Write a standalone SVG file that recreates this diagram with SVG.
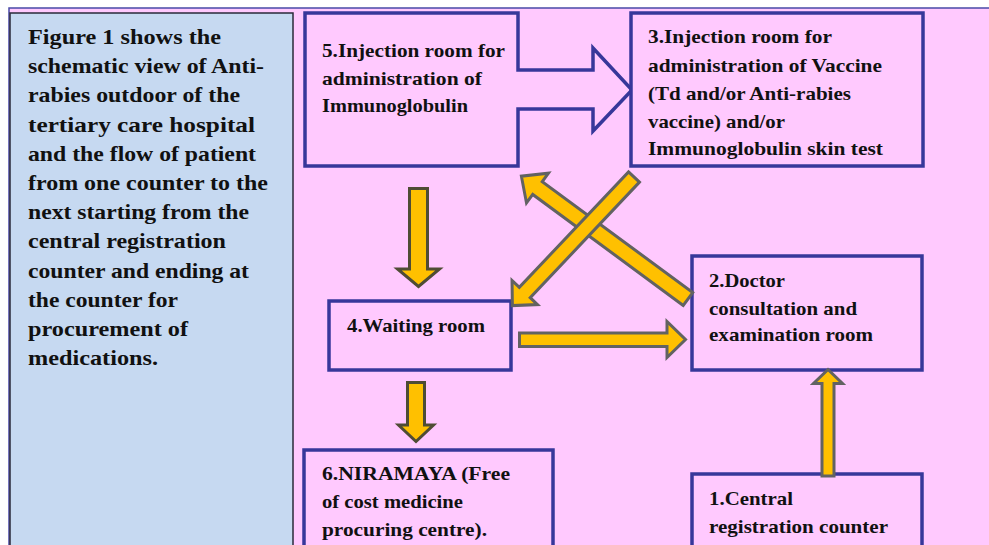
<svg xmlns="http://www.w3.org/2000/svg" width="989" height="545" viewBox="0 0 989 545">
<style>
.bg{fill:#ffc9fe;stroke:#4a4aa8;stroke-width:1.5}
.panel{fill:#c6d9f1;stroke:#2a2a3a;stroke-width:1.5}
.box{fill:#ffc9fe;stroke:#37379a;stroke-width:3.5}
.arr{fill:#ffc000;stroke:#626262;stroke-width:3;stroke-linejoin:miter}
.arrd{fill:#ffc000;stroke:#4f4c34;stroke-width:3;stroke-linejoin:miter}
.pt{font-family:"Liberation Serif","Times New Roman",serif;font-weight:bold;font-size:21px;fill:#111}
.bt{font-family:"Liberation Serif","Times New Roman",serif;font-weight:bold;font-size:19px;fill:#111}
</style>
<rect width="989" height="545" fill="#ffffff"/>
<rect class="bg" x="9" y="8" width="990" height="545"/>
<g id="description">
<rect class="panel" x="10" y="13" width="283" height="540"/>
<text class="pt" x="28" y="44" textLength="193" lengthAdjust="spacingAndGlyphs">Figure 1 shows the</text>
<text class="pt" x="28" y="73.2" textLength="236" lengthAdjust="spacingAndGlyphs">schematic view of Anti-</text>
<text class="pt" x="28" y="102.4" textLength="212" lengthAdjust="spacingAndGlyphs">rabies outdoor of the</text>
<text class="pt" x="28" y="131.6" textLength="227" lengthAdjust="spacingAndGlyphs">tertiary care hospital</text>
<text class="pt" x="28" y="160.8" textLength="228" lengthAdjust="spacingAndGlyphs">and the flow of patient</text>
<text class="pt" x="28" y="190" textLength="240" lengthAdjust="spacingAndGlyphs">from one counter to the</text>
<text class="pt" x="28" y="219.2" textLength="221" lengthAdjust="spacingAndGlyphs">next starting from the</text>
<text class="pt" x="28" y="248.4" textLength="198" lengthAdjust="spacingAndGlyphs">central registration</text>
<text class="pt" x="28" y="277.6" textLength="221" lengthAdjust="spacingAndGlyphs">counter and ending at</text>
<text class="pt" x="28" y="306.8" textLength="150" lengthAdjust="spacingAndGlyphs">the counter for</text>
<text class="pt" x="28" y="336" textLength="160" lengthAdjust="spacingAndGlyphs">procurement of</text>
<text class="pt" x="28" y="365.2" textLength="130" lengthAdjust="spacingAndGlyphs">medications.</text>
</g>
<g id="node5">
<polygon class="box" points="305,13 518,13 518,70 593,70 593,48 632,90 593,131 593,109 518,109 518,166 305,166"/>
<text class="bt" x="322" y="57" textLength="183" lengthAdjust="spacingAndGlyphs">5.Injection  room  for</text>
<text class="bt" x="322" y="85" textLength="160" lengthAdjust="spacingAndGlyphs">administration  of</text>
<text class="bt" x="322" y="112" textLength="146" lengthAdjust="spacingAndGlyphs">Immunoglobulin</text>
</g>
<g id="node3">
<rect class="box" x="631" y="13" width="292" height="153"/>
<text class="bt" x="648" y="43" textLength="184" lengthAdjust="spacingAndGlyphs">3.Injection  room  for</text>
<text class="bt" x="648" y="72" textLength="234" lengthAdjust="spacingAndGlyphs">administration  of Vaccine</text>
<text class="bt" x="648" y="100" textLength="203" lengthAdjust="spacingAndGlyphs">(Td  and/or  Anti-rabies</text>
<text class="bt" x="648" y="128" textLength="137" lengthAdjust="spacingAndGlyphs">vaccine) and/or</text>
<text class="bt" x="648" y="155" textLength="235" lengthAdjust="spacingAndGlyphs">Immunoglobulin  skin test</text>
</g>
<g id="node4">
<rect class="box" x="329" y="301" width="182" height="69"/>
<text class="bt" x="347" y="332" textLength="138" lengthAdjust="spacingAndGlyphs">4.Waiting  room</text>
</g>
<g id="node2">
<rect class="box" x="692" y="256" width="230" height="114"/>
<text class="bt" x="709" y="287" textLength="76" lengthAdjust="spacingAndGlyphs">2.Doctor</text>
<text class="bt" x="709" y="315" textLength="148" lengthAdjust="spacingAndGlyphs">consultation  and</text>
<text class="bt" x="709" y="341" textLength="164" lengthAdjust="spacingAndGlyphs">examination  room</text>
</g>
<g id="node1">
<rect class="box" x="692" y="474" width="230" height="90"/>
<text class="bt" x="709" y="505" textLength="84" lengthAdjust="spacingAndGlyphs">1.Central</text>
<text class="bt" x="709" y="533" textLength="179" lengthAdjust="spacingAndGlyphs">registration counter</text>
</g>
<g id="node6">
<rect class="box" x="304" y="450" width="249" height="114"/>
<text class="bt" x="322" y="480" textLength="188" lengthAdjust="spacingAndGlyphs">6.NIRAMAYA  (Free</text>
<text class="bt" x="322" y="508" textLength="141" lengthAdjust="spacingAndGlyphs">of cost medicine</text>
<text class="bt" x="322" y="536" textLength="165" lengthAdjust="spacingAndGlyphs">procuring  centre).</text>
</g>
<g id="connectors">
<polygon class="arrd" points="409.5,188.5 427.5,188.5 427.5,269 439.5,269 418.5,286.5 397.5,269 409.5,269"/>
<polygon class="arrd" points="407.5,382.5 424.5,382.5 424.5,425 433.5,425 416,441.5 398.5,425 407.5,425"/>
<polygon class="arr" points="519.5,333 667,333 667,321.5 685.5,339.5 667,357.5 667,346.5 519.5,346.5"/>
<polygon class="arr" points="822,476 834,476 834,383.5 842.5,383.5 828,369.5 813.5,383.5 822,383.5"/>
<polygon class="arr" transform="translate(688,299) rotate(216.4)" points="0,-8 187,-8 187,-18.5 207,0 187,18.5 187,8 0,8"/>
<polygon class="arr" transform="translate(634,177) rotate(133.4)" points="0,-7.5 159,-7.5 159,-17.5 177,0 159,17.5 159,7.5 0,7.5"/>
</g>
</svg>
